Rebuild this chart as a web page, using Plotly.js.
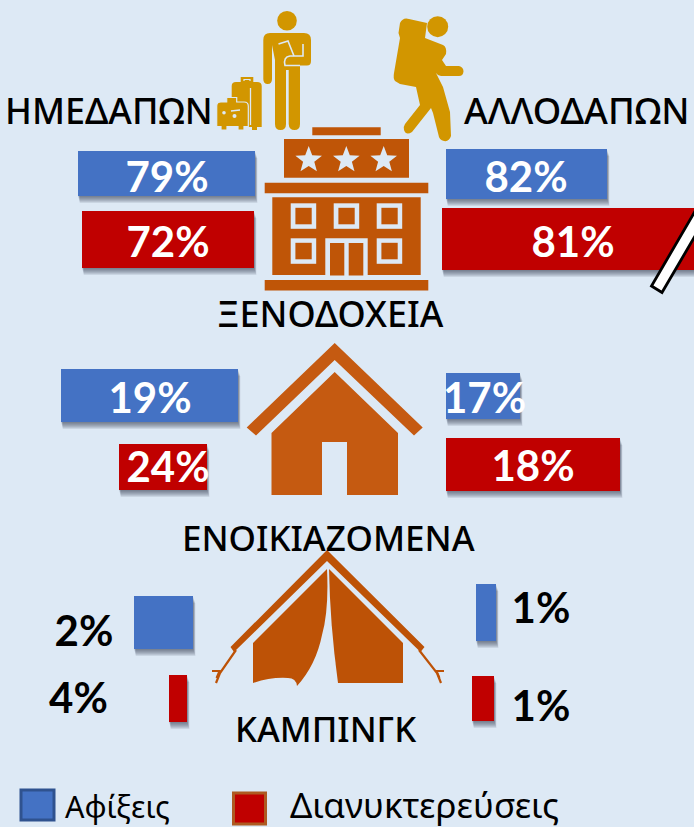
<!DOCTYPE html>
<html><head><meta charset="utf-8">
<script src="https://cdn.plot.ly/plotly-3.0.1.min.js"></script>
<style>html,body{margin:0;padding:0;background:#DDE9F5}#c{width:694px;height:827px}</style>
</head><body><div id="c"></div>
<script>
// ---- values ----
const categories = ['ΞΕΝΟΔΟΧΕΙΑ','ΕΝΟΙΚΙΑΖΟΜΕΝΑ','ΚΑΜΠΙΝΓΚ'];
const groups = ['ΗΜΕΔΑΠΩΝ','ΑΛΛΟΔΑΠΩΝ'];
const seriesNames = ['Αφίξεις','Διανυκτερεύσεις'];
const domesticArrivals = [79,19,2];
const domesticNights   = [72,24,4];
const foreignArrivals  = [82,17,1];
const foreignNights    = [81,18,1];

// ---- drawn bar extents (the original is not to scale) ----
const arrivalStart  = [78,61,134,446,446,476];
const arrivalLength = [177,177,59,161,74,20];
const arrivalCentre = [173.5,395.5,622.5,174,396,612.5];
const arrivalThick  = [45,53,53,50,46,57];
const nightStart    = [82,119,169,442,446,472];
const nightLength   = [172,88,18,262,174,22];
const nightCentre   = [239.5,467,698.5,239,464.5,698.5];
const nightThick    = [57,46,47,62,53,45];

const arrivalLabelX = [167,150,84,526,484.5,541];
const arrivalLabelY = [181,402,635,181,402,612];
const nightLabelX   = [168,168,78.5,573,533,541];
const nightLabelY   = [246,471,702,246,470,710];

const BLUE='#4472C4', RED='#C00000', GOLD='#D29600', HOTEL='#BF5507', HOUSE='#C55A11', TENT='#BD5206', BG='#DDE9F5';
const pct = a => a.map(v => v+'%');
const arrivalValues = domesticArrivals.concat(foreignArrivals);
const nightValues   = domesticNights.concat(foreignNights);

const numFont = {family:'Lato, "Open Sans", sans-serif', size:42, weight:700};
function labelColors(vals){ return vals.map((v,i)=> (i%3===2) ? '#000000' : '#FFFFFF'); }

const data = [
 {type:'bar',orientation:'h',name:seriesNames[0],y:arrivalCentre,x:arrivalLength,base:arrivalStart,width:arrivalThick,
  marker:{color:BLUE,line:{width:0}},hoverinfo:'skip',showlegend:false},
 {type:'bar',orientation:'h',name:seriesNames[1],y:nightCentre,x:nightLength,base:nightStart,width:nightThick,
  marker:{color:RED,line:{width:0}},hoverinfo:'skip',showlegend:false},
 {type:'scatter',mode:'text',x:arrivalLabelX,y:arrivalLabelY,text:pct(arrivalValues),textposition:'middle center',
  textfont:Object.assign({},numFont,{color:labelColors(arrivalValues)}),hoverinfo:'skip',showlegend:false,cliponaxis:false},
 {type:'scatter',mode:'text',x:nightLabelX,y:nightLabelY,text:pct(nightValues),textposition:'middle center',
  textfont:Object.assign({},numFont,{color:labelColors(nightValues)}),hoverinfo:'skip',showlegend:false,cliponaxis:false}
];

const shapes=[];
function S(o){shapes.push(Object.assign({xref:'x',yref:'y',layer:'above',line:{width:0}},o));}
function P(path,fill,extra){S(Object.assign({type:'path',path:path,fillcolor:fill},extra||{}));}
function R(x0,y0,x1,y1,fill,extra){S(Object.assign({type:'rect',x0,y0,x1,y1,fillcolor:fill},extra||{}));}
function C(cx,cy,r,fill){S({type:'circle',x0:cx-r,x1:cx+r,y0:cy-r,y1:cy+r,fillcolor:fill});}
function L(path,color,w){S({type:'path',path:path,line:{color:color,width:w},fillcolor:'rgba(0,0,0,0)'});}
function star(cx,cy,r){let p='';for(let i=0;i<10;i++){const a=-Math.PI/2+i*Math.PI/5,q=i%2?r*0.42:r;
  p+=(i?'L':'M')+(cx+q*Math.cos(a)).toFixed(1)+','+(cy+q*Math.sin(a)).toFixed(1)+' ';}return p+'Z';}

// soft shadows under the bars
function shadows(st,len,ce,th){st.forEach((s,i)=>{[7,6,5,4,3,2,1].forEach(d=>{
  S({type:'rect',layer:'below',x0:s+d/4,x1:s+len[i]+d/3,y0:ce[i]-th[i]/2+d,y1:ce[i]+th[i]/2+d,fillcolor:'rgba(45,55,70,0.11)'});});});}
shadows(arrivalStart,arrivalLength,arrivalCentre,arrivalThick);
shadows(nightStart,nightLength,nightCentre,nightThick);

// hotel icon
R(312.3,127.3,380.7,135.3,HOTEL);
R(284,139,409,177.7,HOTEL);
[308.7,346.3,383.7].forEach(x=>P(star(x,160,14),BG));
R(264.7,182.7,428.3,193.3,HOTEL);
R(272.3,197.3,420.7,275,HOTEL);
R(264.7,280,428.3,290.5,HOTEL);
[[290.7,203.3],[333.7,203.3],[376.7,203.3],[290.7,238.3],[376.7,238.3]].forEach(w=>{
  R(w[0],w[1],w[0]+25.5,w[1]+25.5,BG); R(w[0]+4.7,w[1]+4.5,w[0]+21,w[1]+21,HOTEL);});
R(325.3,238.3,367.7,275.5,BG);
R(330,243,344.3,275.5,HOTEL);
R(348.7,243,363.3,275.5,HOTEL);

// house icon
P('M334.7,343 L422.7,427.5 L414,435.5 L334.7,360 L256,435.5 L246.7,427.5 Z',HOUSE);
P('M334.7,372 L398,433 L398,495 L347,495 L347,442 L322,442 L322,495 L271.5,495 L271.5,433 Z',HOUSE);

// tent icon
P('M327,550 L424.5,647 L420.5,652 L327,561 L234,652 L230.5,647 Z',TENT);
P('M327,569 Q329,610 322,635 Q316,665 297,686 Q296,678 288,678 Q270,677 253,683 L253,643 Z',TENT);
P('M329,569 L403,643 L403,683 L338,683 Q330,625 329,569 Z',TENT);
L('M236,650 L220,673 L216,683',TENT,2.2); L('M212,671 L219.5,671 L216.5,678',TENT,2);
L('M419,650 L437,673 L441,683',TENT,2.2); L('M444,671 L436.5,671 L439.5,678',TENT,2);

// traveller
C(287,20.7,9.8,GOLD);
P('M270,33 L304,33 Q311,33 311,40 L311,61 Q311,65.5 307,65.5 L300,65.5 L300,124 Q300,130 294.5,130 Q289,130 288.7,124 L288.7,70 L286,70 L286,124 Q286,130 280.5,130 Q275,130 275,124 L275,60 L272,45 L272,79 Q272,84 267.7,84 Q263.3,84 263.3,79 L263.3,40 Q263.3,33 270,33 Z',GOLD);
L('M278.5,44 L288,41 L294,56',BG,1.6);
L('M303,44 L303,56 L290,56 Q283,57 285,65.5 L300,65.5',BG,1.6);
// suitcases
P('M231.7,86 Q231.7,82 236,82 L240.7,82 L240.7,77 L253.3,77 L253.3,82 L257,82 Q261.7,82 261.7,86 L261.7,127 L257,127 L257,130 L252,130 L252,127 L231.7,127 Z',GOLD);
L('M244,81 L244,79.5 L250,79.5 L250,81',BG,1.2);
L('M250.5,88 L250.5,125',BG,1.3);
P('M216.7,106 Q216.7,102 221,102 L226.7,102 L226.7,97.5 L236.7,97.5 L236.7,102 L244,102 Q248.3,102 248.3,106 L248.3,126.5 L244,126.5 L244,130 L238,130 L238,126.5 L227,126.5 L227,130 L221,130 L221,126.5 L216.7,126.5 Z',GOLD,{line:{color:BG,width:1.2}});
C(224,112.7,1.8,BG); C(234.5,116,2,BG); L('M231,111 L240,110',BG,1.6);

// backpacker
C(437.7,26.7,10.5,GOLD);
P('M400,23 Q403,17 409,19 L427,23 L425,38 L443,45 Q447,47 446,54 L442,60 L446,66 L459,66 Q463.5,67 463.5,71.5 Q463,76 459,76 L441,76 Q438,76 436,73 L443,87 L450,112 L451,136 Q449,142 444,141 Q439,140 438.5,135 L433,113 L431,108 L412,132 Q406,136 404,130 Q403,127 405,124 L420,105 L416,87 L400,84 L395,81 Q393,78 394,73 L400,38 L398.5,33 Z',GOLD);

// slash
P('M651.5,286 L662,292.5 L712,207 L712,182 Z','#FFFFFF',{line:{color:'#000000',width:2.8}});

// legend swatches
R(21,790,54,820,BLUE,{line:{color:'#2F528F',width:3}});
R(233.5,793,265.5,824,RED,{line:{color:'#AE5A21',width:3}});

const headFont = {family:'"Noto Sans", "DejaVu Sans", sans-serif', color:'#000000', weight:500};
function T(x,y,text,size,extra){return Object.assign({xref:'x',yref:'y',x,y,text,showarrow:false,xanchor:'center',yanchor:'middle',
   font:Object.assign({},headFont,{size})},extra||{});}
const annotations=[
 T(109,110,groups[0],36), T(576,110,groups[1],36.4),
 T(330,313,categories[0],36), T(328,537,categories[1],35), T(325,728,categories[2],34.8),
 T(117.5,806,seriesNames[0],30.5,{font:Object.assign({},headFont,{size:30.5,weight:400})}),
 T(424,804,seriesNames[1],35,{font:Object.assign({},headFont,{size:35,weight:400})})
];

const layout={width:694,height:827,margin:{l:0,r:0,t:0,b:0},paper_bgcolor:BG,plot_bgcolor:BG,barmode:'overlay',showlegend:false,
 xaxis:{range:[0,694],visible:false,fixedrange:true},
 yaxis:{range:[827,0],visible:false,fixedrange:true},
 shapes,annotations};
Plotly.newPlot('c',data,layout,{displayModeBar:false,staticPlot:true});
</script></body></html>
